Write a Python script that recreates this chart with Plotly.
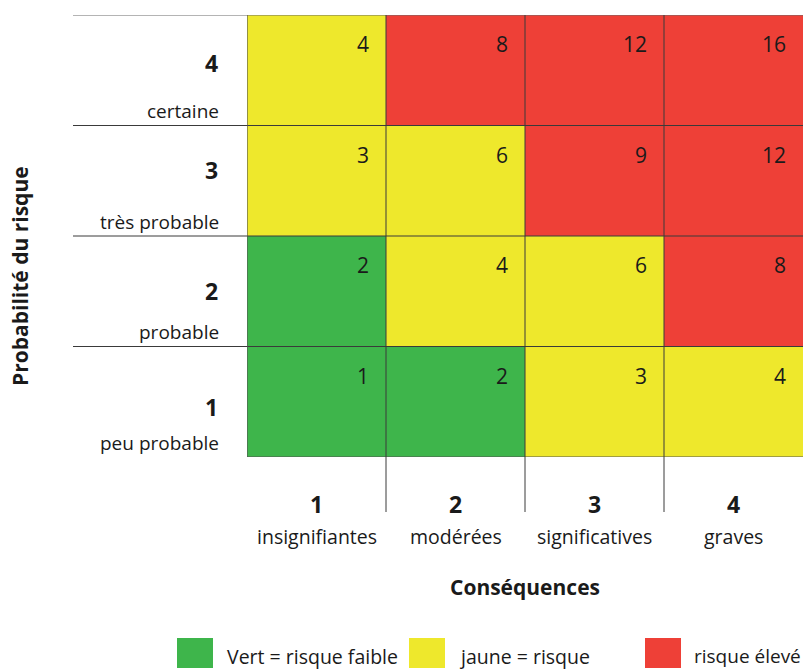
import plotly.graph_objects as go

# ---- data ----
consequence_levels = [1, 2, 3, 4]
consequence_labels = ["insignifiantes", "modérées", "significatives", "graves"]
probability_levels = [1, 2, 3, 4]
probability_labels = ["peu probable", "probable", "très probable", "certaine"]
# rows = probability 1..4, columns = consequence 1..4
scores = [
    [1, 2, 3, 4],
    [2, 4, 6, 8],
    [3, 6, 9, 12],
    [4, 8, 12, 16],
]
risk_class = [
    [0, 0, 1, 1],
    [0, 1, 1, 2],
    [1, 1, 2, 2],
    [1, 2, 2, 2],
]
legend_labels = ["Vert = risque faible", "jaune = risque", "risque élevé"]
class_colors = ["#3EB54B", "#EEE82C", "#EE4037"]
x_title = "Conséquences"
y_title = "Probabilité du risque"

# ---- layout geometry (pixels) ----
W, H = 803, 671
L, R, T, B = 247, 803, 15, 457
FONT = "Open Sans"
TXT = "#1a1a1a"
LINE = "#3a3a3a"
row_number_shift = [-60, -55, -44, -48]   # per probability level 1..4 (layout only)


def px(x):
    return (x - L) / (R - L)


def py(y):
    return (B - y) / (B - T)


colorscale = [
    [0.0, class_colors[0]], [0.3333, class_colors[0]],
    [0.3333, class_colors[1]], [0.6667, class_colors[1]],
    [0.6667, class_colors[2]], [1.0, class_colors[2]],
]

fig = go.Figure(go.Heatmap(
    x=consequence_levels, y=probability_levels, z=risk_class,
    zmin=0, zmax=2, colorscale=colorscale, showscale=False,
    xgap=0, ygap=0, hoverinfo="skip",
))

shapes = []
ann = []

# horizontal lines (row boundaries, extending into the label column)
for yb in [1.5, 2.5, 3.5, 4.5]:
    shapes.append(dict(type="line", xref="paper", yref="y",
                       x0=px(73), x1=1, y0=yb, y1=yb,
                       line=dict(color=LINE if yb < 4.5 else "#6a6a6a", width=1)))
# bottom edge of grid
shapes.append(dict(type="line", xref="paper", yref="y", x0=0, x1=1, y0=0.5, y1=0.5,
                   line=dict(color="#555", width=1.2)))
# left edge of grid
shapes.append(dict(type="line", xref="x", yref="paper", x0=0.5, x1=0.5, y0=0, y1=1,
                   line=dict(color="#555", width=1.2)))
# vertical lines (column boundaries, extending below grid)
for xb in [1.5, 2.5, 3.5]:
    shapes.append(dict(type="line", xref="x", yref="paper", x0=xb, x1=xb,
                       y0=py(512), y1=1, line=dict(color=LINE, width=1)))

# cell scores
for i, p in enumerate(probability_levels):
    for j, c in enumerate(consequence_levels):
        ann.append(dict(x=c + 0.5, y=p + 0.5, xref="x", yref="y",
                        text=str(scores[i][j]), showarrow=False,
                        xanchor="right", yanchor="middle", xshift=-15, yshift=-29,
                        font=dict(family=FONT, size=21, color=TXT)))

# row labels
for i, p in enumerate(probability_levels):
    ann.append(dict(x=0.5, y=p + 0.5, xref="x", yref="y", text=f"<b>{p}</b>",
                    showarrow=False, xanchor="right", yanchor="middle",
                    xshift=-27, yshift=row_number_shift[i],
                    font=dict(family=FONT, size=23, color=TXT)))
    ann.append(dict(x=0.5, y=p + 0.5, xref="x", yref="y", text=probability_labels[i],
                    showarrow=False, xanchor="right", yanchor="middle",
                    xshift=-26, yshift=-96,
                    font=dict(family=FONT, size=19, color=TXT)))

# column labels
for j, c in enumerate(consequence_levels):
    ann.append(dict(x=c, y=py(504), xref="x", yref="paper", text=f"<b>{c}</b>",
                    showarrow=False, xanchor="center", yanchor="middle",
                    font=dict(family=FONT, size=23, color=TXT)))
    ann.append(dict(x=c, y=py(536), xref="x", yref="paper", text=consequence_labels[j],
                    showarrow=False, xanchor="center", yanchor="middle",
                    font=dict(family=FONT, size=19.5, color=TXT)))

# axis titles
ann.append(dict(x=px(525), y=py(587), xref="paper", yref="paper", text=f"<b>{x_title}</b>",
                showarrow=False, xanchor="center", yanchor="middle",
                font=dict(family=FONT, size=21, color=TXT)))
ann.append(dict(x=px(20), y=py(276), xref="paper", yref="paper", text=f"<b>{y_title}</b>",
                showarrow=False, xanchor="center", yanchor="middle", textangle=-90,
                font=dict(family=FONT, size=21, color=TXT)))

# legend
leg_boxes = [177, 409, 645]
leg_text_x = [225, 457, 694]
for k in range(3):
    shapes.append(dict(type="rect", xref="paper", yref="paper",
                       x0=px(leg_boxes[k]), x1=px(leg_boxes[k] + 36),
                       y0=py(668), y1=py(638),
                       fillcolor=class_colors[k], line=dict(width=0)))
    last = k == 2
    ann.append(dict(x=1 if last else px(leg_text_x[k]), y=py(656),
                    xref="paper", yref="paper",
                    text=legend_labels[k], showarrow=False,
                    xanchor="right" if last else "left", yanchor="middle",
                    font=dict(family=FONT, size=19 if last else 19.5, color=TXT)))

fig.update_layout(
    width=W, height=H,
    margin=dict(l=L, r=W - R, t=T, b=H - B, pad=0),
    paper_bgcolor="white", plot_bgcolor="white",
    xaxis=dict(range=[0.5, 4.5], visible=False, fixedrange=True),
    yaxis=dict(range=[0.5, 4.5], visible=False, fixedrange=True),
    shapes=shapes, annotations=ann, showlegend=False,
)

fig.write_html("out.html", config={"displayModeBar": False})
